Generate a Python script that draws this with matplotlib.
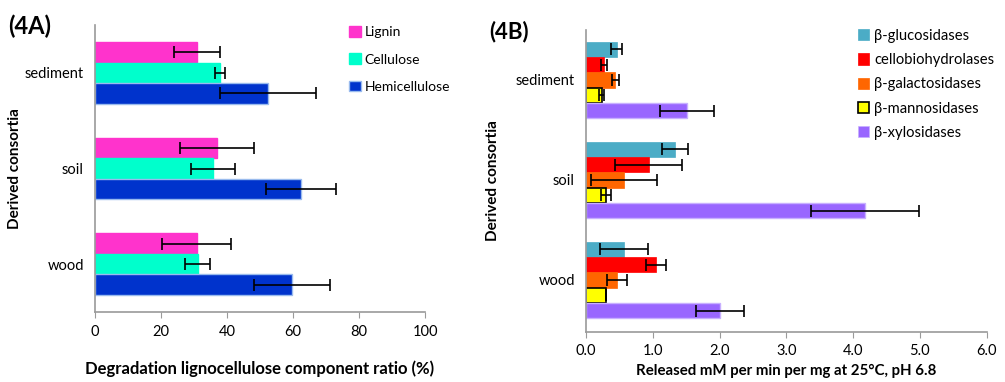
import matplotlib
matplotlib.use("Agg")
import matplotlib.pyplot as plt
import numpy as np
from matplotlib.patches import Patch

plt.rcParams['font.family'] = ['Lato', 'DejaVu Sans']

# ---- Panel A data ----
cats = ["wood", "soil", "sediment"]
series_a = ["Lignin", "Cellulose", "Hemicellulose"]
lignin = [30.8, 37.0, 30.8]
lignin_err = [10.4, 11.3, 7.0]
cellulose = [31.1, 35.7, 37.9]
cellulose_err = [3.8, 6.6, 1.6]
hemi = [59.7, 62.4, 52.5]
hemi_err = [11.5, 10.5, 14.6]
colors_a = ["#FF33CC", "#00FFCC", "#0033CC"]
edges_a = ["#FF33CC", "#00FFCC", "#99BBEE"]

# ---- Panel B data ----
series_b = ["β-glucosidases", "cellobiohydrolases", "β-galactosidases",
            "β-mannosidases", "β-xylosidases"]
gluc = [0.57, 1.33, 0.46]
gluc_err = [0.36, 0.19, 0.085]
cello = [1.05, 0.94, 0.27]
cello_err = [0.15, 0.50, 0.045]
galac = [0.46, 0.57, 0.44]
galac_err = [0.15, 0.50, 0.055]
manno = [0.30, 0.30, 0.235]
manno_err = [0.005, 0.075, 0.04]
xylo = [2.00, 4.18, 1.51]
xylo_err = [0.36, 0.81, 0.40]
colors_b = ["#4BACC6", "#FF0000", "#FF6600", "#FFFF00", "#9966FF"]
edges_b = ["#4BACC6", "#FF0000", "#FF6600", "#000000", "#C8B0FF"]
lw_b = [0.5, 0.5, 0.5, 1.2, 1.0]

fig = plt.figure(figsize=(10.05, 3.82), dpi=100)

axA = fig.add_axes([0.0945, 0.1832, 0.3284, 0.7514])
axB = fig.add_axes([0.5831, 0.1309, 0.3987, 0.7906])

spine_col = "#9A9A9A"
ebkw = dict(ecolor="black", elinewidth=1.2, capsize=4, capthick=1.2)

# Panel A
y = np.arange(len(cats))
h = 0.215
vals_a = [lignin, cellulose, hemi]
errs_a = [lignin_err, cellulose_err, hemi_err]
for i, (v, e) in enumerate(zip(vals_a, errs_a)):
    axA.barh(y + (1 - i) * h, v, height=h, color=colors_a[i], edgecolor=edges_a[i],
             linewidth=1.0, xerr=e, error_kw=ebkw, label=series_a[i])
axA.set_xlim(0, 100)
axA.set_ylim(-0.5, 2.5)
axA.set_yticks(y)
axA.set_yticklabels(cats, fontsize=10.5)
axA.set_xticks(np.arange(0, 101, 20))
axA.tick_params(axis='x', labelsize=10.5, length=4, color=spine_col, pad=5)
axA.tick_params(axis='y', length=0, pad=8)
for s in ["top", "right"]:
    axA.spines[s].set_visible(False)
for s in ["left", "bottom"]:
    axA.spines[s].set_color(spine_col)
    axA.spines[s].set_linewidth(1.2)
axA.set_xlabel("Degradation lignocellulose component ratio (%)", fontsize=12,
               fontweight="bold", labelpad=16)
axA.set_ylabel("Derived consortia", fontsize=11, fontweight="bold")
axA.yaxis.set_label_coords(-0.22, 0.5)
handles_a = [Patch(facecolor=colors_a[i], edgecolor=edges_a[i], label=series_a[i])
             for i in range(3)]
axA.legend(handles=handles_a, loc="upper left", bbox_to_anchor=(0.733, 1.04),
           frameon=False, fontsize=10, handlelength=0.8, handleheight=0.8,
           handletextpad=0.3, labelspacing=1.1)
fig.text(0.008, 0.912, "(4A)", fontsize=17, fontweight="bold")

# Panel B
hb = 0.153
vals_b = [gluc, cello, galac, manno, xylo]
errs_b = [gluc_err, cello_err, galac_err, manno_err, xylo_err]
for i, (v, e) in enumerate(zip(vals_b, errs_b)):
    axB.barh(y + (2 - i) * hb, v, height=hb, color=colors_b[i], edgecolor=edges_b[i],
             linewidth=lw_b[i], xerr=e, error_kw=ebkw, label=series_b[i])
axB.set_xlim(0, 6)
axB.set_ylim(-0.52, 2.5)
axB.set_yticks(y)
axB.set_yticklabels(cats, fontsize=10.5)
axB.set_xticks(np.arange(0, 6.01, 1.0))
axB.set_xticklabels([f"{t:.1f}" for t in np.arange(0, 6.01, 1.0)])
axB.tick_params(axis='x', labelsize=10.5, length=4, color=spine_col, pad=5)
axB.tick_params(axis='y', length=0, pad=8)
for s in ["top", "right"]:
    axB.spines[s].set_visible(False)
for s in ["left", "bottom"]:
    axB.spines[s].set_color(spine_col)
    axB.spines[s].set_linewidth(1.2)
axB.set_xlabel("Released mM per min per mg at 25°C, pH 6.8", fontsize=10.8,
               fontweight="bold", labelpad=4)
axB.set_ylabel("Derived consortia", fontsize=11, fontweight="bold")
axB.yaxis.set_label_coords(-0.215, 0.5)
handles_b = [Patch(facecolor=colors_b[i], edgecolor=edges_b[i],
                   linewidth=lw_b[i] if i == 3 else 0.5, label=series_b[i])
             for i in range(5)]
axB.legend(handles=handles_b, loc="upper left", bbox_to_anchor=(0.645, 1.048),
           frameon=False, fontsize=10.6, handlelength=0.8, handleheight=0.8,
           handletextpad=0.3, labelspacing=0.7)
fig.text(0.487, 0.9, "(4B)", fontsize=16, fontweight="bold")

fig.savefig("out.png", dpi=100)
